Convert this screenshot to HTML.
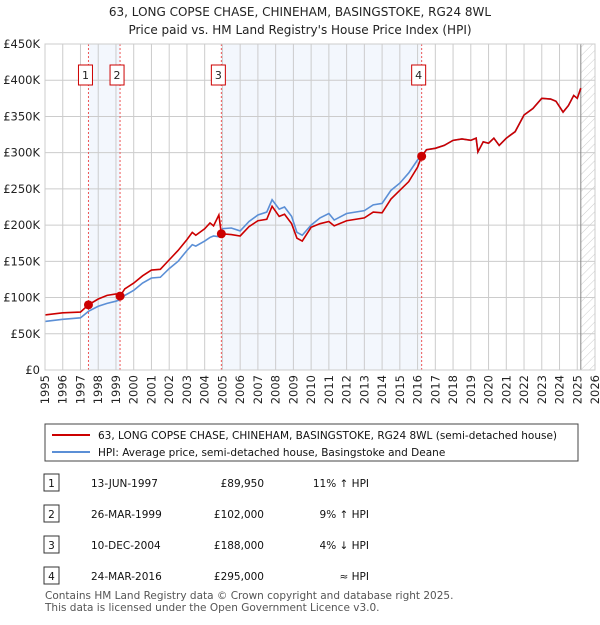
<!DOCTYPE html>
<html><head><meta charset="utf-8"><style>
body{margin:0;background:#fff;font-family:"Liberation Sans","DejaVu Sans",sans-serif;}
svg text{font-family:"DejaVu Sans","Liberation Sans",sans-serif;}
</style></head><body>
<svg id="c" width="600" height="620" xmlns="http://www.w3.org/2000/svg">
<defs><pattern id="hatch" width="6" height="6" patternUnits="userSpaceOnUse" patternTransform="rotate(45)"><line x1="0" y1="0" x2="0" y2="6" stroke="#ccc" stroke-width="1"/></pattern></defs>
<text x="300" y="16" text-anchor="middle" font-size="12" fill="#222">63, LONG COPSE CHASE, CHINEHAM, BASINGSTOKE, RG24 8WL</text>
<text x="300" y="34" text-anchor="middle" font-size="12" fill="#222">Price paid vs. HM Land Registry's House Price Index (HPI)</text>
<g id="plot"></g>
<rect x="45" y="424" width="533" height="37" fill="#fff" stroke="#444"/>
<line x1="52" y1="435" x2="90" y2="435" stroke="#cc0000" stroke-width="2"/>
<text x="98" y="439" font-size="10.5" fill="#111">63, LONG COPSE CHASE, CHINEHAM, BASINGSTOKE, RG24 8WL (semi-detached house)</text>
<line x1="52" y1="452" x2="90" y2="452" stroke="#5b8fd6" stroke-width="2"/>
<text x="98" y="456" font-size="10.5" fill="#111">HPI: Average price, semi-detached house, Basingstoke and Deane</text>
<g id="table" font-size="10.5" fill="#111"></g>
<text x="45" y="599" font-size="10.5" fill="#555">Contains HM Land Registry data © Crown copyright and database right 2025.</text>
<text x="45" y="611" font-size="10.5" fill="#555">This data is licensed under the Open Government Licence v3.0.</text>
</svg>
<script>
const years=[1995,1996,1997,1997.45,1998,1998.5,1999,1999.23,1999.5,2000,2000.5,2001,2001.5,2002,2002.5,2003,2003.3,2003.5,2004,2004.3,2004.5,2004.8,2004.94,2005.5,2006,2006.5,2007,2007.5,2007.8,2008.2,2008.5,2008.9,2009.2,2009.5,2010,2010.5,2011,2011.3,2012,2013,2013.5,2014,2014.5,2015,2015.5,2016,2016.23,2016.5,2017,2017.5,2018,2018.5,2019,2019.3,2019.4,2019.7,2020,2020.3,2020.6,2021,2021.5,2022,2022.5,2023,2023.5,2023.8,2024.2,2024.5,2024.8,2025,2025.2];
const hpi=[67,70,72,81,88,92,95,97,103,110,120,127,128,140,150,165,173,171,178,183,185,184,195,196,192,205,214,218,235,222,225,212,190,186,200,210,216,207,216,220,228,230,248,258,272,290,295,304,306,310,317,319,317,320,301,315,313,320,310,320,329,352,361,375,374,371,356,365,379,375,389];
const price=[76,79,80,90,98,103,105,102,112,120,130,138,139,152,165,180,190,186,195,203,199,214,188,187,185,198,206,208,226,212,215,202,182,178,197,202,205,199,206,210,218,217,236,248,260,280,295,304,306,310,317,319,317,320,301,315,313,320,310,320,329,352,361,375,374,371,356,365,379,375,389];
const yTicks=[0,50,100,150,200,250,300,350,400,450];
const yLabels=["£0","£50K","£100K","£150K","£200K","£250K","£300K","£350K","£400K","£450K"];
const saleYears=[1997.45,1999.23,2004.94,2016.23];
const salePrices=[89.95,102,188,295];
const saleDates=["13-JUN-1997","26-MAR-1999","10-DEC-2004","24-MAR-2016"];
const salePriceLabels=["£89,950","£102,000","£188,000","£295,000"];
const saleHpi=["11% ↑ HPI","9% ↑ HPI","4% ↓ HPI","≈ HPI"];
const X0=45,X1=595,Y0=370,Y1=44;
const xs=y=>X0+(y-1995)/31*(X1-X0);
const ys=v=>Y0-v/450*(Y0-Y1);
const NS="http://www.w3.org/2000/svg";
const g=document.getElementById('plot');
function mk(tag,attrs,parent){const e=document.createElementNS(NS,tag);for(const k in attrs)e.setAttribute(k,attrs[k]);(parent||g).appendChild(e);return e;}
let e;
e=mk('rect',{x:xs(saleYears[0]),y:Y1,width:xs(saleYears[1])-xs(saleYears[0]),height:Y0-Y1,fill:'#eef3fc',opacity:0.7});


e=mk('rect',{x:xs(saleYears[2]),y:Y1,width:xs(saleYears[3])-xs(saleYears[2]),height:Y0-Y1,fill:'#eef3fc',opacity:0.7});


e=mk('rect',{x:xs(2025.2),y:Y1,width:X1-xs(2025.2),height:Y0-Y1,fill:'url(#hatch)'});


for(let yr=1995;yr<=2026;yr++){
 e=mk('line',{x1:xs(yr),x2:xs(yr),y1:Y1,y2:Y0,stroke:'#ccc','stroke-width':1});
 
 
 e=mk('text',{transform:`translate(${xs(yr)+4},${Y0+5}) rotate(-90)`,'text-anchor':'end','font-size':11.5,fill:'#222'});
 e.textContent=yr;
 
 
}
yTicks.forEach((v,i)=>{
 e=mk('line',{x1:X0,x2:X1,y1:ys(v),y2:ys(v),stroke:'#ccc','stroke-width':1});
 
 
 e=mk('text',{x:40,y:ys(v)+4,'text-anchor':'end','font-size':11.5,fill:'#222'});
 e.textContent=yLabels[i];
 
 
});
e=mk('line',{x1:xs(2025.2),x2:xs(2025.2),y1:Y1,y2:Y0,stroke:'#888','stroke-width':1});


e=mk('polyline',{points:years.map((y,i)=>xs(y)+','+ys(hpi[i])).join(' '),fill:'none',stroke:'#5b8fd6','stroke-width':1.6});


e=mk('polyline',{points:years.map((y,i)=>xs(y)+','+ys(price[i])).join(' '),fill:'none',stroke:'#cc0000','stroke-width':1.6});


saleYears.forEach((y,i)=>{
 e=mk('line',{x1:xs(y),x2:xs(y),y1:Y1,y2:Y0,stroke:'#e55','stroke-width':1,'stroke-dasharray':'2,2'});
 
 
 e=mk('rect',{x:xs(y)-10,y:65,width:14,height:20,fill:'#fff',stroke:'#cc0000'});
 
 
 e=mk('text',{x:xs(y)-3,y:79,'text-anchor':'middle','font-size':11,fill:'#222'});
 e.textContent=i+1;
 
 
 e=mk('circle',{cx:xs(y),cy:ys(salePrices[i]),r:4.5,fill:'#cc0000'});
 
 
});
e=mk('rect',{x:X0,y:Y1,width:X1-X0,height:Y0-Y1,fill:'none',stroke:'#ccc'});


const t=document.getElementById('table');
saleDates.forEach((d,i)=>{
 const cy=[483,514,545,576][i];
 e=mk('rect',{x:44,y:cy-9,width:15,height:17,fill:'#fff',stroke:'#333'},t);
 
 
 e=mk('text',{x:51.5,y:cy+4,'text-anchor':'middle'},t);e.textContent=i+1;
 
 
 e=mk('text',{x:91,y:cy+4},t);e.textContent=d;
 
 
 e=mk('text',{x:264,y:cy+4,'text-anchor':'end'},t);e.textContent=salePriceLabels[i];
 
 
 e=mk('text',{x:369,y:cy+4,'text-anchor':'end'},t);e.textContent=saleHpi[i];
 
 
});
</script>
</body></html>
